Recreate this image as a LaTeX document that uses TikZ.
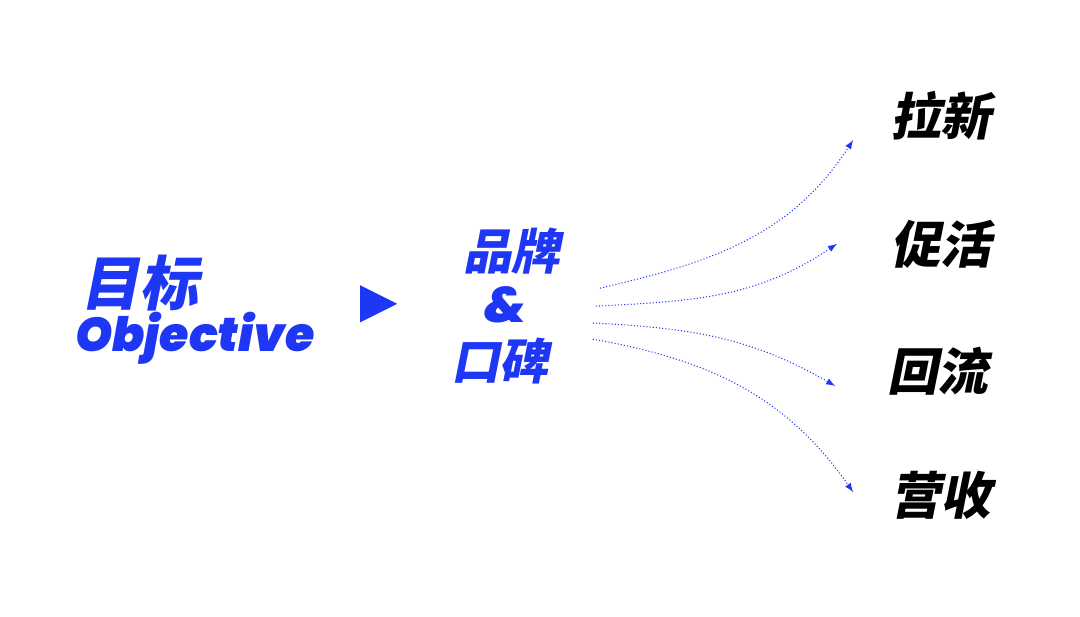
\documentclass[tikz,border=0pt]{standalone}
\usepackage{fontspec}
\newfontfamily\cjk[FakeSlant=0.2]{Noto Sans CJK SC Black}
\newfontfamily\latin[ItalicFont=* Italic]{Poppins Black}
\definecolor{brandblue}{RGB}{30,55,245}
\tikzset{
  goal/.style={text=brandblue,inner sep=0pt,font=\cjk\fontsize{28pt}{28pt}\selectfont},
  brand/.style={text=brandblue,inner sep=0pt,font=\cjk\fontsize{23pt}{23pt}\selectfont},
  aim/.style={text=black,inner sep=0pt,font=\cjk\fontsize{24pt}{24pt}\selectfont},
  flow/.style={brandblue,densely dotted,line width=0.5pt,-latex}
}
\begin{document}
\begin{tikzpicture}
\useasboundingbox (0,0) rectangle (18,10.283);
\node [goal] (goal) at (2.33,5.57) {目标};
\node [text=brandblue,inner sep=0pt,font=\latin\itshape\fontsize{22.5pt}{22.5pt}\selectfont] (obj) at (3.25,4.65) {Objective};
\fill [brandblue] (6.0,5.53) -- (6.62,5.22) -- (6.0,4.91) -- cycle;
\node [brand] (brand) at (8.53,6.1) {品牌};
\node [text=brandblue,inner sep=0pt,font=\latin\itshape\fontsize{24pt}{24pt}\selectfont] (amp) at (8.43,5.2) {\&};
\node [brand] (wom) at (8.33,4.26) {口碑};
\node [aim] (new) at (15.68,8.35) {拉新};
\node [aim] (act) at (15.68,6.22) {促活};
\node [aim] (back) at (15.63,4.1) {回流};
\node [aim] (rev) at (15.68,2.02) {营收};
% start and end points of the flows
\coordinate (s1) at (10.0,5.48); \coordinate (e1) at (14.22,7.95);
\coordinate (s2) at (9.93,5.18); \coordinate (e2) at (13.95,6.22);
\coordinate (s3) at (9.88,4.9); \coordinate (e3) at (13.92,3.85);
\coordinate (s4) at (9.88,4.63); \coordinate (e4) at (14.22,2.08);
\draw [flow] (s1) to[out=13,in=237] (e1);
\draw [flow] (s2) to[out=3,in=214] (e2);
\draw [flow] (s3) to[out=-3,in=150] (e3);
\draw [flow] (s4) to[out=-10,in=125] (e4);
\end{tikzpicture}
\end{document}
